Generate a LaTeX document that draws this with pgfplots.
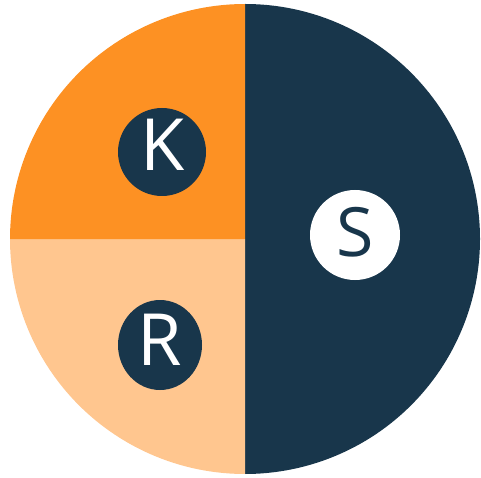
\documentclass[border=0pt]{standalone}
\usepackage{pgfplots}
\usepackage{pgfplotstable}
\pgfplotsset{compat=1.18}
\usepackage{fontspec}
\setmainfont{Open Sans}
\definecolor{navy}{RGB}{24,54,75}
\definecolor{orng}{RGB}{253,145,35}
\definecolor{lorng}{RGB}{255,198,143}
\pgfplotstableread{
share label
50 S
25 R
25 K
}\piedata
\begin{document}
\begin{tikzpicture}
\pgfplotstablegetelem{0}{share}\of\piedata \let\sS\pgfplotsretval
\pgfplotstablegetelem{1}{share}\of\piedata \let\sR\pgfplotsretval
\pgfplotstablegetelem{2}{share}\of\piedata \let\sK\pgfplotsretval
\pgfmathsetmacro{\aA}{90}
\pgfmathsetmacro{\aB}{\aA-3.6*\sS}
\pgfmathsetmacro{\aC}{\aB-3.6*\sR}
\pgfmathsetmacro{\aD}{\aC-3.6*\sK}
\useasboundingbox (0,0) rectangle (481pt,477pt);
\begin{axis}[at={(0,0)},anchor=south west,scale only axis,width=481pt,height=477pt,
  xmin=0,xmax=481,ymin=0,ymax=477,hide axis,clip=false]
\fill[navy] (axis cs:245,238) -- ++(\aA:235pt) arc[start angle=\aA,end angle=\aB,radius=235pt] -- cycle;
\fill[lorng] (axis cs:245,238) -- ++(\aB:235pt) arc[start angle=\aB,end angle=\aC,radius=235pt] -- cycle;
\fill[orng] (axis cs:245,238) -- ++(\aC:235pt) arc[start angle=\aC,end angle=\aD,radius=235pt] -- cycle;
\fill[navy] (axis cs:162,325) circle[radius=44pt];
\fill[white] (axis cs:355,242) circle[radius=45pt];
\fill[navy] (axis cs:160,132) ellipse[x radius=42pt,y radius=45pt];
\node[inner sep=0pt,text=white,font=\fontsize{72}{72}\selectfont] at (axis cs:163,332) {K};
\node[inner sep=0pt,text=navy,font=\fontsize{68}{68}\selectfont] at (axis cs:355,245) {S};
\node[inner sep=0pt,text=white,font=\fontsize{72}{72}\selectfont] at (axis cs:160,137) {R};
\end{axis}
\end{tikzpicture}
\end{document}
